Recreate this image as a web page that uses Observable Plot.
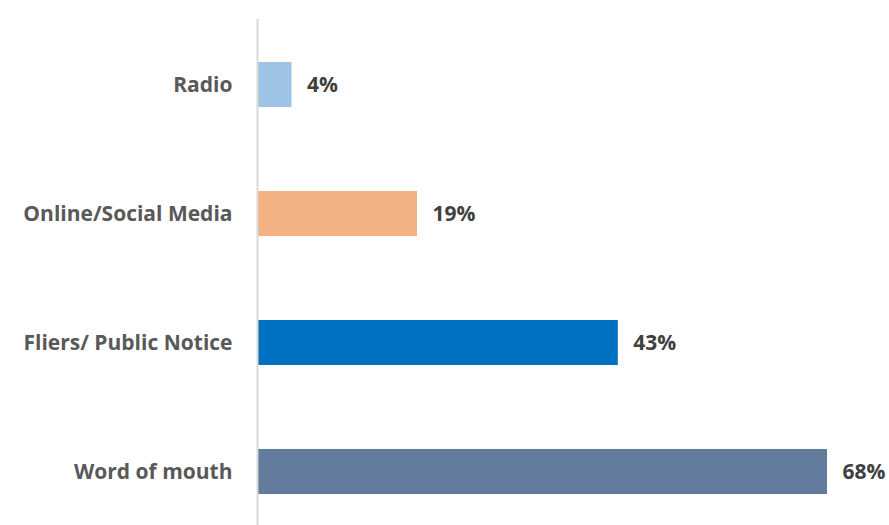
<!DOCTYPE html>
<html><head><meta charset="utf-8">
<script src="https://cdn.jsdelivr.net/npm/d3@7"></script>
<script src="https://cdn.jsdelivr.net/npm/@observablehq/plot@0.6"></script>
<style>body{margin:0;background:#fff;} svg{display:block;}</style>
</head><body><div id="chart"></div>
<script>
const categories = ["Radio", "Online/Social Media", "Fliers/ Public Notice", "Word of mouth"];
const values = [4, 19, 43, 68];
const colors = ["#9dc3e6", "#f4b183", "#0070c0", "#637b9d"];

const data = categories.map((c, i) => ({category: c, value: values[i], color: colors[i]}));

const chart = Plot.plot({
  width: 889, height: 525,
  marginLeft: 258, marginRight: 62, marginTop: 19, marginBottom: 0,
  style: {fontFamily: "'Open Sans', sans-serif", fontSize: "21px", fontWeight: 700, background: "#fff"},
  x: {domain: [0, 68], axis: null},
  y: {domain: categories, paddingInner: 0.65, paddingOuter: 0.28, align: 0.58, label: null, tickSize: 0, tickPadding: 26},
  marks: [
    Plot.barX(data, {x: "value", y: "category", fill: "color"}),
    Plot.ruleX([0], {stroke: "#d9d9d9", strokeWidth: 2, dx: -1}),
    Plot.text(data, {x: "value", y: "category", text: d => d.value + "%", textAnchor: "start", dx: 15, fill: "#404040", fontSize: 21, fontWeight: 700}),
    Plot.axisY({tickSize: 0, tickPadding: 26, fill: "#595959", fontSize: 21, fontWeight: 700, label: null})
  ]
});
document.getElementById("chart").appendChild(chart);
</script></body></html>
